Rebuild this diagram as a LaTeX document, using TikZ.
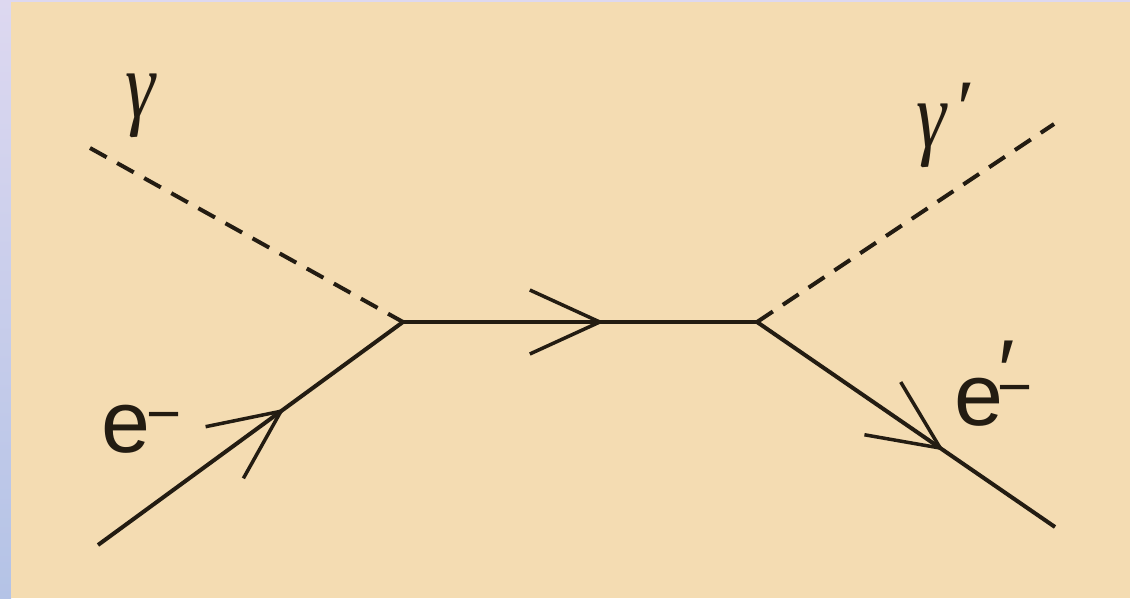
\documentclass[tikz,border=0pt]{standalone}
\usepackage{fontspec}
\setmainfont{Liberation Sans}
\newfontfamily\grk{Liberation Serif}
\usetikzlibrary{decorations.markings}
\definecolor{bg}{HTML}{F4DCB2}
\definecolor{lavtop}{HTML}{DDD8F0}
\definecolor{lavbot}{HTML}{B4C3E6}
\definecolor{ink}{HTML}{231C12}
\tikzset{
  photon/.style={ink, line width=4pt, dash pattern=on 19pt off 12pt},
  fermion/.style={ink, line width=4pt, postaction={decorate},
    decoration={markings, mark=at position #1 with
      {\draw[ink, line width=3.5pt, miter limit=20] (-70pt,-32pt) -- (0,0) -- (-70pt,32pt);}}},
  lbl/.style={inner sep=0pt, outer sep=0pt, text=ink},
}
\begin{document}
\begin{tikzpicture}[x=1pt,y=-1pt]
\useasboundingbox (0,0) rectangle (1130,598);
\fill[lavtop] (0,0) rectangle (1130,598);
\shade[top color=lavtop, bottom color=lavbot] (0,0) rectangle (11,598);
\fill[bg] (11,2) rectangle (1130,598);

\coordinate (g) at (90,148);
\coordinate (v1) at (403,322);
\coordinate (ein) at (98,545);
\coordinate (v2) at (757,322);
\coordinate (gp) at (1054,124);
\coordinate (eout) at (1055,527);

\draw[photon] (g) -- (v1);
\draw[fermion=0.6] (ein) -- (v1);
\draw[fermion=0.556] (v1) -- (v2);
\draw[photon] (v2) -- (gp);
\draw[fermion=0.615] (v2) -- (eout);

\node[lbl] (gl) at (140,106) {\scalebox{0.8}[1]{\fontsize{95}{95}\grk\itshape γ}};
\node[lbl, anchor=base west] (gpl) at (916,147)
  {\scalebox{0.8}[1]{\fontsize{95}{95}\grk\itshape γ}\kern12pt\raisebox{12pt}{\fontsize{80}{80}\grk ′}};

\node[lbl, anchor=base west] (el) at (101,452)
  {\fontsize{88}{88}\selectfont e\kern-3pt\raisebox{18pt}{\fontsize{60}{60}\selectfont −}};
\node[lbl, anchor=base west] (er) at (954,425)
  {\fontsize{88}{88}\selectfont e\kern-4pt\rlap{\raisebox{24pt}{′}}\kern-1pt\raisebox{18pt}{\fontsize{60}{60}\selectfont −}};
\end{tikzpicture}
\end{document}
